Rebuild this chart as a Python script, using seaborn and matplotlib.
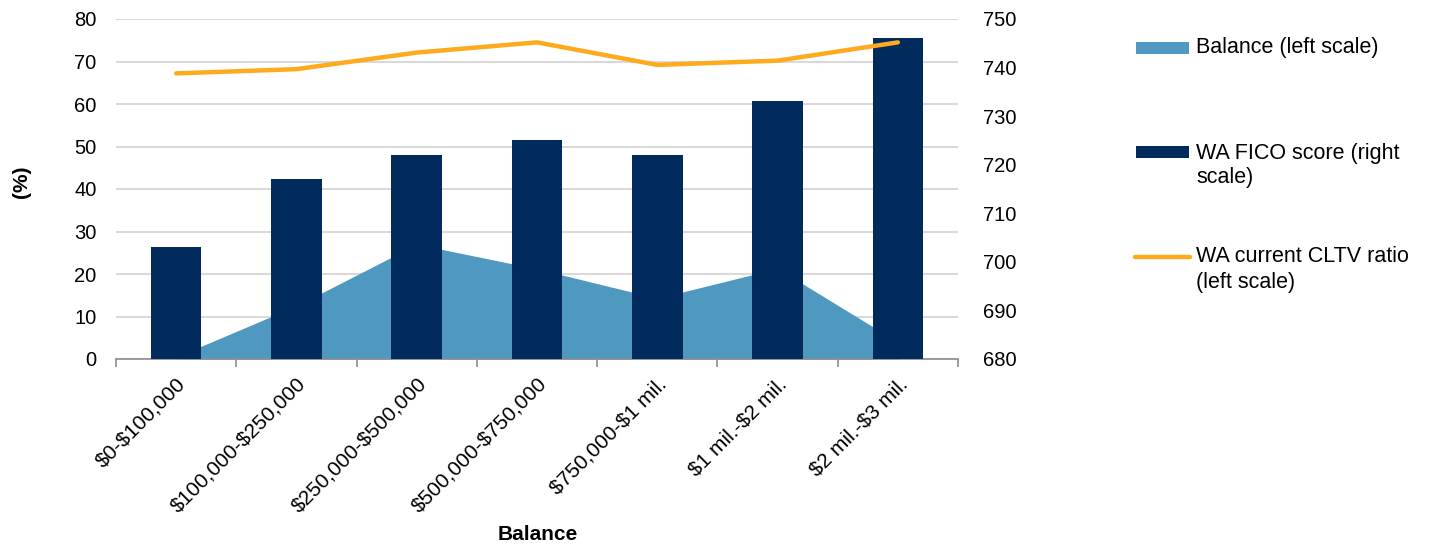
import matplotlib
matplotlib.use("Agg")
import matplotlib.pyplot as plt
import matplotlib.transforms as mtransforms
import seaborn as sns
import pandas as pd
from matplotlib.patches import Rectangle
from matplotlib.lines import Line2D

categories = ["$0-$100,000", "$100,000-$250,000", "$250,000-$500,000",
              "$500,000-$750,000", "$750,000-$1 mil.", "$1 mil.-$2 mil.",
              "$2 mil.-$3 mil."]
balance = [0.5, 12.5, 27.0, 21.2, 14.3, 21.3, 4.0]
wa_fico = [703.1, 717.1, 722.1, 725.1, 722.1, 733.1, 746.1]
wa_cltv = [67.2, 68.2, 72.1, 74.5, 69.2, 70.2, 74.5]
left_ticks = [0, 10, 20, 30, 40, 50, 60, 70, 80]
right_ticks = [680, 690, 700, 710, 720, 730, 740, 750]

C_AREA = "#4F99C1"
C_BAR = "#002B5C"
C_LINE = "#FDAA1D"
C_GRID = "#D9D9D9"
C_AXIS = "#8C8C8C"

sns.set_theme(style="white")
plt.rcParams["font.family"] = ["Liberation Sans", "DejaVu Sans"]
plt.rcParams["text.parse_math"] = False
plt.rcParams["text.color"] = "black"
plt.rcParams["xtick.color"] = "black"
plt.rcParams["ytick.color"] = "black"
plt.rcParams["xtick.labelcolor"] = "black"
plt.rcParams["ytick.labelcolor"] = "black"
FS = 14.5
FS_X = 15
FS_LEG = 15.5

df = pd.DataFrame({"cat": categories, "balance": balance,
                   "fico": wa_fico, "cltv": wa_cltv})
xs = list(range(len(categories)))

fig = plt.figure(figsize=(14.29, 5.46), dpi=100)
ax = fig.add_axes([116 / 1429, 1 - 359 / 546, (958 - 116) / 1429, 340 / 546])
ax2 = ax.twinx()
ax3 = ax.twinx()

# Area (left scale)
ax.fill_between(xs, 0, df["balance"], color=C_AREA, linewidth=0, zorder=2)
ax.set_ylim(0, 80)
ax.set_yticks(left_ticks)
ax.yaxis.grid(True, color=C_GRID, linewidth=1.5)
ax.set_axisbelow(True)

# Bars (right scale)
sns.barplot(data=df, x="cat", y="fico", ax=ax2, color=C_BAR, width=0.42,
            saturation=1, linewidth=0)
ax2.set_ylim(680, 750)
ax2.set_yticks(right_ticks)
ax2.set_ylabel("")
ax2.set_xlabel("")

# Line (left scale) on top
sns.lineplot(data=df, x="cat", y="cltv", ax=ax3, color=C_LINE, linewidth=3.2,
             sort=False)
ax3.set_ylim(0, 80)
ax3.set_ylabel("")
ax3.set_xlabel("")
ax3.set_yticks([])

for a in (ax, ax2, ax3):
    for s in ("left", "right", "top"):
        a.spines[s].set_visible(False)
    a.set_xlim(-0.5, len(categories) - 0.5)
ax2.spines["bottom"].set_visible(False)
ax3.spines["bottom"].set_visible(False)
ax.spines["bottom"].set_color(C_AXIS)
ax.spines["bottom"].set_linewidth(1.2)

# x ticks: labels at centers, marks at boundaries
ax.set_xticks(xs)
ax.set_xticklabels(categories, rotation=45, ha="right", rotation_mode="anchor",
                   fontsize=FS_X)
offset = mtransforms.ScaledTranslation(-4 / 100, 0, fig.dpi_scale_trans)
for lbl in ax.get_xticklabels():
    lbl.set_transform(lbl.get_transform() + offset)
ax.set_xticks([i - 0.5 for i in range(len(categories) + 1)], minor=True)
ax.tick_params(axis="x", which="major", length=0, pad=11)
ax.tick_params(axis="x", which="minor", length=6, width=1.2, color=C_AXIS,
               direction="out", bottom=True)
ax2.tick_params(axis="x", which="both", bottom=False, labelbottom=False)
ax3.tick_params(axis="x", which="both", bottom=False, labelbottom=False)

ax.tick_params(axis="y", length=0, pad=14, labelsize=FS)
ax2.tick_params(axis="y", length=0, pad=18, labelsize=FS)

ax.set_xlabel("")
ax.set_ylabel("")
fig.text(538 / 1429, 1 - 535 / 546, "Balance", ha="center", va="center",
         fontsize=FS_X, fontweight="bold")
fig.text(21 / 1429, 1 - 182 / 546, "(%)", ha="center", va="center",
         fontsize=FS_X, fontweight="bold", rotation=90)

# Legend drawn manually in figure coordinates
W, H = 1429, 546
def fx(px):
    return px / W
def fy(py):
    return 1 - py / H

fig.patches.append(Rectangle((fx(1136), fy(54)), fx(1189) - fx(1136),
                             12 / H, transform=fig.transFigure,
                             color=C_AREA, linewidth=0))
fig.text(fx(1196), fy(48), "Balance (left scale)", fontsize=FS_LEG, va="center")

fig.patches.append(Rectangle((fx(1136), fy(158)), fx(1189) - fx(1136),
                             12 / H, transform=fig.transFigure,
                             color=C_BAR, linewidth=0))
fig.text(fx(1196), fy(153), "WA FICO score (right", fontsize=FS_LEG, va="center")
fig.text(fx(1196), fy(178), "scale)", fontsize=FS_LEG, va="center")

fig.lines.append(Line2D([fx(1135), fx(1190)], [fy(257), fy(257)],
                        transform=fig.transFigure, color=C_LINE,
                        linewidth=3.2))
fig.text(fx(1196), fy(257), "WA current CLTV ratio", fontsize=FS_LEG, va="center")
fig.text(fx(1196), fy(282), "(left scale)", fontsize=FS_LEG, va="center")

fig.savefig("out.png", dpi=100)
